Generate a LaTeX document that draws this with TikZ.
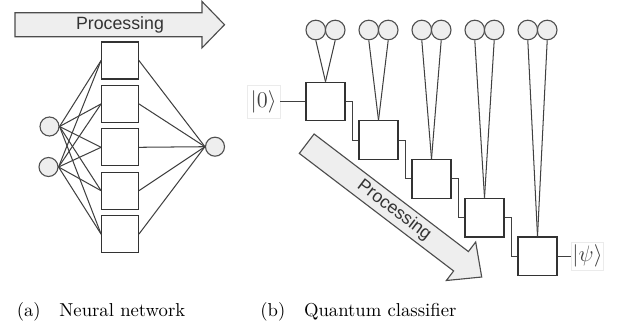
\documentclass[tikz,border=0pt]{standalone}
\usepackage{fontspec}
\newfontfamily\procfont{Liberation Sans}
\usepackage{tikz}
\usetikzlibrary{calc}
\definecolor{wiregray}{RGB}{64,64,64}
\definecolor{edgegray}{RGB}{80,80,80}
\definecolor{cellgray}{RGB}{238,238,238}
\def\px{0.535pt}

\begin{document}
\begin{tikzpicture}[x=0.535pt, y=-0.535pt,
  wire/.style={draw=wiregray, line width=0.55pt},
  unit/.style={circle, draw=edgegray, fill=cellgray, line width=0.6pt, inner sep=0pt, minimum size={19*\px}},
  cell/.style={draw=black!80, fill=white, line width=0.6pt, inner sep=0pt,
               minimum width={36.7*\px}, minimum height={37*\px}},
  gate/.style={cell, minimum width={39*\px}, minimum height={38.7*\px}},
  bigarrow/.style={draw=black!70, fill=cellgray, line width=0.6pt, line join=miter},
  proclabel/.style={font=\procfont\fontsize{9.5}{11}\selectfont, text=black!80},
  ket/.style={draw=black!8, inner sep=0pt, text=black!75, font=\fontsize{11.5}{13}\selectfont},
  caption/.style={anchor=base west, inner sep=0pt, font=\normalsize}]

  \useasboundingbox (0,0) rectangle (617,329);

  % ========== PANEL (a) : NEURAL NETWORK ==========
  % Processing arrow
  \draw[bigarrow] (15,12.7) -- (202,12.7) -- (202,1.5) -- (224.5,24.7)
    -- (202,47.9) -- (202,36.7) -- (15,36.7) -- cycle;
  \node[proclabel] (procA) at (120,24.7) {Processing};

  % Hidden layer
  \foreach \i in {1,...,5}
    \node[cell] (h\i) at (120, {60.5+43.4*(\i-1)}) {};

  % Input and output units
  \node[unit] (in1) at (49.5,126.5) {};
  \node[unit] (in2) at (48.5,167) {};
  \node[unit] (out) at (215,146.7) {};

  % Connections
  \foreach \i in {1,...,5}{
    \draw[wire] (in1.east) -- (h\i.west);
    \draw[wire] (in2.east) -- (h\i.west);
    \draw[wire] (h\i.east) -- (out.west);
  }

  % ========== PANEL (b) : QUANTUM CLASSIFIER ==========
  % Gates, each with its pair of units
  \foreach \i in {1,...,5}{
    \node[gate] (q\i) at ({325.5+53*(\i-1)}, {101.5+38.7*(\i-1)}) {};
    \node[unit, minimum size={19.6*\px}] (ma\i) at ({315.8+53*(\i-1)}, 30) {};
    \node[unit, minimum size={19.6*\px}] (mb\i) at ({335.2+53*(\i-1)}, 30) {};
    \draw[wire] (ma\i.south) -- (q\i.north);
    \draw[wire] (mb\i.south) -- (q\i.north);
  }

  % Wires between gates
  \foreach \i [count=\j from 2] in {1,...,4}
    \draw[wire] (q\i.east) -- ++(6.7,0) |- (q\j.west);

  % Input and output states
  \node[ket, minimum width={33*\px}, minimum height={33*\px}] (ket0) at (263.5,101.5) {$|0\rangle$};
  \node[ket, minimum width={31.6*\px}, minimum height={28.4*\px}] (ketpsi) at (587.5,256.3) {$|\psi\rangle$};
  \draw[wire] (ket0.east) -- (q1.west);
  \draw[wire] (q5.east) -- (ketpsi.west);

  % Processing arrow (diagonal)
  \begin{scope}[shift={(306.7,143.7)}, rotate=-37.3]
    \draw[bigarrow] (0,-12.2) -- (194,-12.2) -- (194,-24.2) -- (220,0)
      -- (194,24.2) -- (194,12.2) -- (0,12.2) -- cycle;
    \node[proclabel, rotate=-37.3] (procB) at (110,0) {Processing};
  \end{scope}

  % ========== CAPTIONS ==========
  \node[caption] (capA) at (16.5,316) {(a)\quad Neural network};
  \node[caption] (capB) at (260,316) {(b)\quad Quantum classifier};

\end{tikzpicture}
\end{document}
